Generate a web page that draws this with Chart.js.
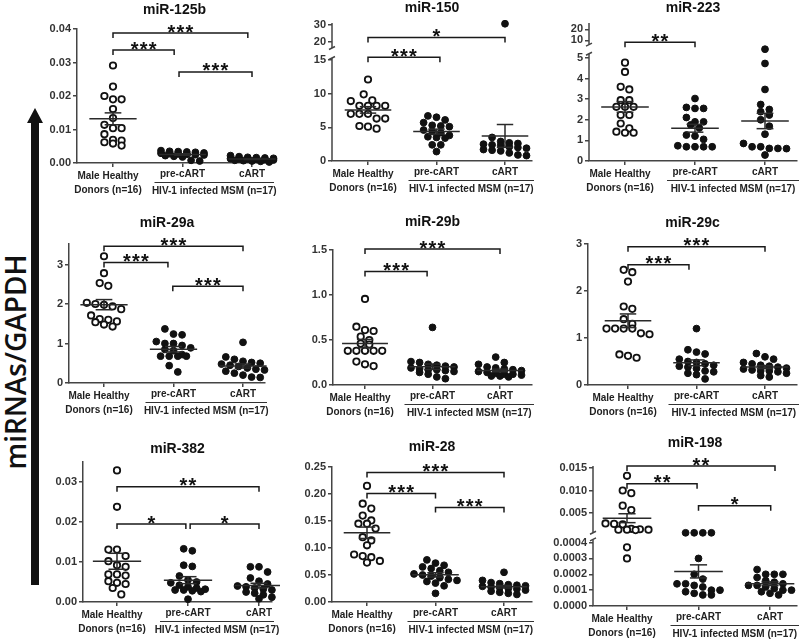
<!DOCTYPE html>
<html><head><meta charset="utf-8">
<script src="https://cdn.jsdelivr.net/npm/chart.js@4.4.1/dist/chart.umd.min.js"></script>
<style>
html,body{margin:0;padding:0;background:#fff;width:800px;height:639px;overflow:hidden;position:relative;font-family:"Liberation Sans",Arial,sans-serif}
canvas{position:absolute}
#ylab{position:absolute;left:15px;top:362px;transform:translate(-50%,-50%) rotate(-90deg);font-family:"Open Sans",sans-serif;font-weight:600;font-size:28px;color:#111;white-space:nowrap}
#abar{position:absolute;left:31px;top:121px;width:8px;height:464px;background:#111}
#ahead{position:absolute;left:27px;top:108px;width:0;height:0;border-left:8px solid transparent;border-right:8px solid transparent;border-bottom:15px solid #111}
</style></head><body>
<div id="abar"></div><div id="ahead"></div>
<div id="ylab"></div>
<script>
// ---------- DATA ----------
const categoryLines = [["Male Healthy","Donors (n=16)"],["pre-cART"],["cART"]];
const hivGroupLabel = "HIV-1 infected MSM (n=17)";
const yAxisTitle = "miRNAs/GAPDH";

const miR125b_healthy = [0.0291,0.0228,0.0200,0.0190,0.0190,0.0161,0.0134,0.0114,0.0104,0.0104,0.0086,0.0069,0.0062,0.0052,0.0058,0.0067];
const miR125b_pre = [0.0037,0.0035,0.0034,0.0033,0.0032,0.0030,0.0029,0.0028,0.0027,0.0026,0.0025,0.0024,0.0022,0.0020,0.0018,0.0008,0.0006];
const miR125b_cart = [0.0022,0.0019,0.0017,0.0016,0.0015,0.0014,0.0013,0.0012,0.0012,0.0011,0.0010,0.0009,0.0008,0.0007,0.0006,0.0005,0.0003];
const miR125b_ticks = ["0.00","0.01","0.02","0.03","0.04"];
const miR125b_sig = [[1,2.94,0.0388,"***"],[1,1.88,0.0337,"***"],[1.95,3.0,0.0272,"***"]];

const miR150_healthy = [12.1,9.9,8.9,9.0,8.2,8.2,8.2,8.2,7.0,7.0,7.0,6.3,6.3,5.2,4.8,5.1];
const miR150_pre = [6.7,6.5,6.1,5.7,5.2,5.1,5.3,4.6,4.4,4.2,3.8,3.5,3.4,3.6,2.4,2.4,1.4];
const miR150_cart = [30.7,3.5,2.9,2.7,2.6,2.5,2.4,2.3,2.1,2.0,1.9,1.7,1.6,1.5,1.2,0.9,0.8];
const miR150_ticks = ["0","5","10","15","20","30"];
const miR150_sig = [[1,3.0,22.7,"*"],[1,2.05,15.4,"***"]];

const miR223_healthy = [4.77,4.32,3.47,3.6,2.95,2.95,2.63,2.63,2.63,2.23,2.23,1.82,1.42,1.37,1.37,1.58];
const miR223_pre = [3.03,2.6,2.55,2.55,2.11,1.9,1.9,1.75,1.6,1.26,1.21,1.05,0.74,0.69,0.69,0.69,0.69];
const miR223_cart = [5.6,4.73,3.47,2.74,2.5,2.39,2.23,2.0,1.69,1.3,0.85,0.69,0.69,0.61,0.61,0.6,0.29];
const miR223_ticks = ["0","1","2","3","4","5","10","20"];
const miR223_sig = [[1,2.0,8.2,"**"]];

const miR29a_healthy = [3.21,2.78,2.53,2.46,2.03,2.0,1.98,1.94,1.87,1.71,1.62,1.6,1.56,1.54,1.48,1.43];
const miR29a_pre = [1.37,1.24,1.22,1.05,1.0,1.0,0.95,0.89,0.85,0.82,0.72,0.68,0.68,0.68,0.68,0.44,0.28];
const miR29a_cart = [1.03,0.66,0.6,0.55,0.52,0.5,0.48,0.45,0.42,0.38,0.35,0.33,0.3,0.25,0.2,0.15,0.14];
const miR29a_ticks = ["0","1","2","3"];
const miR29a_sig = [[1,3.0,3.46,"***"],[1,1.92,3.05,"***"],[1.99,3.0,2.45,"***"]];

const miR29b_healthy = [0.956,0.648,0.61,0.6,0.537,0.5,0.46,0.45,0.38,0.38,0.38,0.38,0.38,0.26,0.23,0.21];
const miR29b_pre = [0.64,0.26,0.25,0.23,0.22,0.21,0.2,0.19,0.18,0.17,0.17,0.16,0.15,0.14,0.12,0.09,0.07];
const miR29b_cart = [0.31,0.25,0.23,0.2,0.19,0.18,0.17,0.16,0.15,0.14,0.13,0.12,0.12,0.11,0.1,0.1,0.09];
const miR29b_ticks = ["0.0","0.5","1.0","1.5"];
const miR29b_sig = [[1,3.0,1.51,"***"],[1,1.92,1.26,"***"]];

const miR29c_healthy = [2.45,2.4,2.2,1.67,1.62,1.4,1.3,1.2,1.2,1.2,1.2,1.1,1.08,0.65,0.58,0.62];
const miR29c_pre = [1.2,0.75,0.7,0.66,0.55,0.5,0.48,0.45,0.42,0.4,0.38,0.35,0.3,0.28,0.25,0.22,0.13];
const miR29c_cart = [0.67,0.6,0.55,0.48,0.45,0.42,0.4,0.38,0.36,0.34,0.32,0.3,0.3,0.28,0.25,0.2,0.17];
const miR29c_ticks = ["0","1","2","3"];
const miR29c_sig = [[1,3.0,2.94,"***"],[1,1.89,2.56,"***"]];

const miR382_healthy = [0.0329,0.0238,0.0131,0.0131,0.0115,0.0102,0.0092,0.0088,0.0069,0.0069,0.0066,0.0052,0.0048,0.0045,0.0035,0.0019];
const miR382_pre = [0.0133,0.0128,0.0092,0.0089,0.0065,0.0055,0.005,0.0048,0.0042,0.0038,0.0035,0.0032,0.003,0.003,0.0028,0.0026,0.0007];
const miR382_cart = [0.0088,0.0088,0.0075,0.006,0.0052,0.0045,0.004,0.0038,0.0035,0.0032,0.003,0.0028,0.0025,0.0022,0.0018,0.0012,0.0008];
const miR382_ticks = ["0.00","0.01","0.02","0.03"];
const miR382_sig = [[1,3.0,0.0288,"**"],[1,1.97,0.0195,"*"],[2.03,3.0,0.0195,"*"]];

const miR28_healthy = [0.215,0.182,0.173,0.16,0.145,0.151,0.145,0.136,0.12,0.114,0.105,0.088,0.083,0.073,0.076,0.085];
const miR28_pre = [0.078,0.072,0.068,0.065,0.062,0.058,0.055,0.052,0.05,0.048,0.045,0.042,0.04,0.038,0.035,0.03,0.016];
const miR28_cart = [0.055,0.04,0.036,0.034,0.032,0.031,0.03,0.029,0.028,0.027,0.025,0.024,0.022,0.02,0.018,0.016,0.014];
const miR28_ticks = ["0.00","0.05","0.10","0.15","0.20","0.25"];
const miR28_sig = [[1,3.0,0.24,"***"],[1,2.0,0.201,"***"],[2.0,3.0,0.175,"***"]];

const miR198_healthy = [0.0133,0.0100,0.0094,0.0066,0.0056,0.0026,0.0025,0.0024,0.0014,0.0013,0.0012,0.0012,0.0012,0.0011,0.00037,0.00030];
const miR198_pre = [0.0005,0.0005,0.0005,0.0005,0.0003,0.0002,0.00017,0.00014,0.00014,0.00013,0.00012,0.0001,0.0001,0.00009,0.00008,0.00007,0.00007];
const miR198_cart = [0.00023,0.0002,0.0002,0.0002,0.00018,0.00016,0.00015,0.00014,0.00013,0.00013,0.00012,0.00011,0.0001,0.0001,0.00009,0.00008,0.00007];
const miR198_ticks = ["0.0000","0.0001","0.0002","0.0003","0.0004","0.005","0.010","0.015"];
const miR198_sig = [[1,3.07,0.0155,"**"],[1,1.98,0.0115,"**"],[2.0,3.01,0.0066,"*"]];

// ---------- LAYOUT ----------
const FONT = '"Liberation Sans", Arial, Helvetica, sans-serif';
const lin = (max) => [{v0:0,f0:0,v1:max,f1:1,lo:-Infinity,hi:Infinity}];
const panels = [
 {title:"miR-125b", groups:[miR125b_healthy,miR125b_pre,miR125b_cart], ticks:miR125b_ticks, sig:miR125b_sig,
  left:77,right:272,top:29,bottom:163,c1:113,c3:252,titleY:10, segs:lin(0.04)},
 {title:"miR-150", groups:[miR150_healthy,miR150_pre,miR150_cart], ticks:miR150_ticks, sig:miR150_sig,
  left:332,right:532,top:23,bottom:161,c1:368,c3:505,titleY:8, broken:true,
  segs:[{v0:0,f0:0,v1:15,f1:0.732,lo:-Infinity,hi:15.3},{v0:20,f0:0.862,v1:30,f1:0.986,lo:16.5,hi:Infinity}]},
 {title:"miR-223", groups:[miR223_healthy,miR223_pre,miR223_cart], ticks:miR223_ticks, sig:miR223_sig,
  left:589,right:797,top:23,bottom:161,c1:625,c3:765,titleY:8, broken:true,
  segs:[{v0:0,f0:0,v1:5,f1:0.747,lo:-Infinity,hi:5.2},{v0:10,f0:0.875,v1:20,f1:0.954,lo:6,hi:Infinity}]},
 {title:"miR-29a", groups:[miR29a_healthy,miR29a_pre,miR29a_cart], ticks:miR29a_ticks, sig:miR29a_sig,
  left:69,right:265,top:244,bottom:383,c1:104,c3:243,titleY:223, segs:lin(3.52)},
 {title:"miR-29b", groups:[miR29b_healthy,miR29b_pre,miR29b_cart], ticks:miR29b_ticks, sig:miR29b_sig,
  left:333,right:532,top:250,bottom:385,c1:365,c3:500,titleY:222, segs:lin(1.5)},
 {title:"miR-29c", groups:[miR29c_healthy,miR29c_pre,miR29c_cart], ticks:miR29c_ticks, sig:miR29c_sig,
  left:588,right:797,top:244,bottom:385,c1:628,c3:765,titleY:223, segs:lin(3.0)},
 {title:"miR-382", groups:[miR382_healthy,miR382_pre,miR382_cart], ticks:miR382_ticks, sig:miR382_sig,
  left:83,right:272,top:462,bottom:602,c1:117,c3:259,titleY:449, segs:lin(0.035)},
 {title:"miR-28", groups:[miR28_healthy,miR28_pre,miR28_cart], ticks:miR28_ticks, sig:miR28_sig,
  left:332,right:532,top:467,bottom:602,c1:367,c3:504,titleY:447, segs:lin(0.25)},
 {title:"miR-198", groups:[miR198_healthy,miR198_pre,miR198_cart], ticks:miR198_ticks, sig:miR198_sig,
  left:593,right:797,top:466,bottom:606,c1:627,c3:770,titleY:443, broken:true,
  segs:[{v0:0,f0:0,v1:0.0004,f1:0.453,lo:-Infinity,hi:0.00042},{v0:0.005,f0:0.666,v1:0.015,f1:0.984,lo:0.0005,hi:Infinity}]}
];

document.getElementById('ylab').textContent = yAxisTitle;

// ---------- broken-capable linear scale ----------
const BRK = {};
class BrokenScale extends Chart.LinearScale {
  buildTicks(){ return BRK[this.chart.canvas.id].labels.map(l => ({value: parseFloat(l)})); }
  _frac(v){
    const segs = BRK[this.chart.canvas.id].segs;
    const f = (s, x) => s.f0 + (x - s.v0) * (s.f1 - s.f0) / (s.v1 - s.v0);
    for (let i = 0; i < segs.length; i++) {
      const s = segs[i];
      if (v <= s.hi) {
        if (v >= s.lo || i === 0) return f(s, v);
        const p = segs[i-1];
        const a = f(p, p.hi), b = f(s, s.lo);
        return a + (v - p.hi) / (s.lo - p.hi) * (b - a);
      }
    }
    return f(segs[segs.length-1], v);
  }
  getPixelForValue(v){ if (v === null || v === undefined || isNaN(v)) return NaN; return this.getPixelForDecimal(this._frac(v)); }
  getValueForPixel(p){ return this.min + this.getDecimalForPixel(p) * (this.max - this.min); }
}
BrokenScale.id = 'broken';
BrokenScale.defaults = Chart.LinearScale.defaults;
Chart.register(BrokenScale);

function seg(ctx, x1, y1, x2, y2){ ctx.beginPath(); ctx.moveTo(x1, y1); ctx.lineTo(x2, y2); ctx.stroke(); }

function makePlugin(P, canvasTop){
  return {
    id: 'annot',
    afterDatasetsDraw(chart){
      const ctx = chart.ctx, xs = chart.scales.x, ys = chart.scales.y;
      const u = xs.getPixelForValue(2) - xs.getPixelForValue(1);
      ctx.save(); ctx.strokeStyle = '#2a2a2a'; ctx.lineWidth = 1.5;
      P.groups.forEach((vals, gi) => {
        const n = vals.length, m = vals.reduce((a,b)=>a+b,0)/n;
        const sd = Math.sqrt(vals.reduce((a,b)=>a+(b-m)*(b-m),0)/(n-1)), se = sd/Math.sqrt(n);
        const cx = xs.getPixelForValue(gi+1), my = ys.getPixelForValue(m);
        const ty = ys.getPixelForValue(m+se), by = ys.getPixelForValue(m-se);
        seg(ctx, cx-0.34*u, my, cx+0.34*u, my);
        seg(ctx, cx, ty, cx, by);
        seg(ctx, cx-0.12*u, ty, cx+0.12*u, ty);
        seg(ctx, cx-0.12*u, by, cx+0.12*u, by);
      });
      ctx.restore();
    },
    afterDraw(chart){
      const ctx = chart.ctx, xs = chart.scales.x, ys = chart.scales.y, ca = chart.chartArea;
      ctx.save();
      // broken axis
      if (P.broken) {
        ctx.strokeStyle = '#444'; ctx.lineWidth = 1.5;
        const x = ca.left;
        const yLowTop = ys.getPixelForValue(P.segs[0].hi);
        const yUpBot = ys.getPixelForValue(P.segs[1].lo);
        seg(ctx, x, ca.bottom, x, yLowTop);
        seg(ctx, x, yUpBot, x, ca.top);
        seg(ctx, x-3, yLowTop+1.5, x+3, yLowTop-1.5);
        seg(ctx, x-3, yUpBot+1.5, x+3, yUpBot-1.5);
      }
      // title
      ctx.fillStyle = '#111'; ctx.font = 'bold 14px ' + FONT;
      ctx.textAlign = 'center'; ctx.textBaseline = 'middle';
      ctx.fillText(P.title, (ca.left + ca.right)/2, P.titleY - canvasTop);
      // significance brackets
      ctx.strokeStyle = '#1a1a1a'; ctx.lineWidth = 1.5;
      P.sig.forEach(([a, b, v, s]) => {
        const x1 = xs.getPixelForValue(a), x2 = xs.getPixelForValue(b), y = ys.getPixelForValue(v);
        ctx.beginPath(); ctx.moveTo(x1, y+5); ctx.lineTo(x1, y); ctx.lineTo(x2, y); ctx.lineTo(x2, y+5); ctx.stroke();
        ctx.font = 'bold 20px ' + FONT; ctx.textBaseline = 'alphabetic'; ctx.fillStyle = '#111';
        const cx = (x1 + x2)/2;
        for (let k = 0; k < s.length; k++) ctx.fillText('*', cx + (k - (s.length-1)/2)*9, y + 5.5);
      });
      // x labels
      ctx.fillStyle = '#222'; ctx.font = 'bold 10px ' + FONT; ctx.textBaseline = 'middle'; ctx.textAlign = 'center';
      const b = ca.bottom;
      ctx.fillText(categoryLines[0][0], xs.getPixelForValue(1)-5, b+13);
      ctx.fillText(categoryLines[0][1], xs.getPixelForValue(1)-5, b+27);
      ctx.fillText(categoryLines[1][0], xs.getPixelForValue(2), b+11);
      ctx.fillText(categoryLines[2][0], xs.getPixelForValue(3), b+11);
      const gx1 = xs.getPixelForValue(2) - 28, gx2 = ca.right + 2;
      ctx.strokeStyle = '#333'; ctx.lineWidth = 1;
      seg(ctx, gx1, b+19.5, gx2, b+19.5);
      ctx.fillText(hivGroupLabel, (gx1+gx2)/2, b+28);
      ctx.restore();
    }
  };
}

function swarm(vals, c, ys, u){
  const pts = vals.map(v => ({v, py: ys.getPixelForValue(v)})).sort((a,b) => a.py - b.py);
  const rows = []; let row = null;
  for (const p of pts) {
    if (row && p.py - row[0].py < 6.5 && row.length < 6) row.push(p);
    else { row = [p]; rows.push(row); }
  }
  const out = [];
  rows.forEach(r => r.forEach((p, i) => out.push({x: c + (i - (r.length-1)/2) * 8.6 / u, y: p.v})));
  return out;
}

panels.forEach((P, idx) => {
  const cLeft = P.left - 50, cTop = P.titleY - 12;
  const W = P.right + 8 - cLeft, H = P.bottom + 36 - cTop;
  const cv = document.createElement('canvas');
  cv.id = 'c' + idx; cv.width = W; cv.height = H;
  cv.style.left = cLeft + 'px'; cv.style.top = cTop + 'px';
  cv.style.width = W + 'px'; cv.style.height = H + 'px';
  document.body.appendChild(cv);
  BRK[cv.id] = {labels: P.ticks, segs: P.segs};
  const u = (P.c3 - P.c1)/2;
  const xmin = 1 - (P.c1 - P.left)/u, xmax = 3 + (P.right - P.c3)/u;
  const ymax = parseFloat(P.ticks[P.ticks.length-1]);
  const mk = (gi) => ({
    data: P.groups[gi].map(v => ({x: gi+1, y: v})),
    pointRadius: gi === 0 ? 3.2 : 3.4,
    pointBorderWidth: gi === 0 ? 1.8 : 1,
    pointBackgroundColor: gi === 0 ? '#fff' : '#111',
    pointBorderColor: '#111',
    showLine: false, clip: false
  });
  const chart = new Chart(cv, {
    type: 'scatter',
    data: {datasets: [mk(0), mk(1), mk(2)]},
    options: {
      responsive: false, animation: false, devicePixelRatio: 1,
      layout: {padding: {top: P.top - cTop, left: 0, right: 8, bottom: 0}},
      plugins: {legend: {display: false}, tooltip: {enabled: false}},
      events: [],
      scales: {
        x: {type: 'linear', min: xmin, max: xmax,
            afterBuildTicks: s => { s.ticks = [1,2,3].map(v => ({value: v})); },
            afterFit: s => { s.height = 36; },
            ticks: {display: false},
            grid: {drawOnChartArea: false, drawTicks: true, tickLength: 4, color: '#444', lineWidth: 1.5},
            border: {display: true, color: '#444', width: 1.5}},
        y: {type: 'broken', min: 0, max: ymax,
            afterFit: s => { s.width = 50; },
            ticks: {autoSkip: false, padding: 2, color: '#333', font: {family: FONT, size: 11, weight: 'bold'},
                    callback: (v, i) => P.ticks[i]},
            grid: {drawOnChartArea: false, drawTicks: true, tickLength: 4, color: '#444', lineWidth: 1.5},
            border: {display: !P.broken, color: '#444', width: 1.5}}
      }
    },
    plugins: [makePlugin(P, cTop)]
  });
  const xs = chart.scales.x, ys = chart.scales.y;
  const pu = xs.getPixelForValue(2) - xs.getPixelForValue(1);
  chart.data.datasets.forEach((ds, gi) => { ds.data = swarm(P.groups[gi], gi+1, ys, pu); });
  chart.update('none');
});
</script>
</body></html>
